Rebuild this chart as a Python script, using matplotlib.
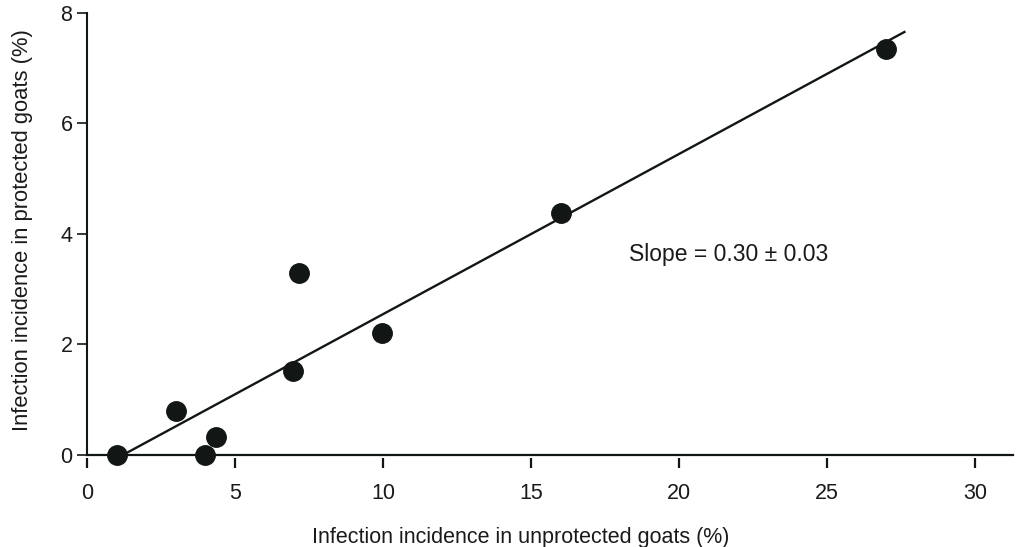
import numpy as np
import matplotlib
matplotlib.use("Agg")
import matplotlib.pyplot as plt

plt.rcParams['font.family'] = ['Liberation Sans', 'DejaVu Sans']

# infection incidence (%) per herd: unprotected vs protected goats
unprotected = [1.0, 3.0, 4.0, 4.35, 6.97, 7.15, 9.96, 16.01, 26.99]
protected = [0.0, 0.80, 0.0, 0.32, 1.52, 3.29, 2.21, 4.38, 7.34]
fit_end = 27.65
slope_text = 'Slope = 0.30 ± 0.03'

x_ticks = [0, 5, 10, 15, 20, 25, 30]
y_ticks = [0, 2, 4, 6, 8]

ink = '#121715'
txt = '#1a1a1a'

fig = plt.figure(figsize=(10.19, 5.47), dpi=100)
ax = fig.add_axes([87 / 1019, 1 - 455 / 547, 926 / 1019, 442.3 / 547])
ax.set_xlim(0, 926 / 29.6)
ax.set_ylim(0, 8)

# least squares line through the points
b, a = np.polyfit(unprotected, protected, 1)
xf = np.array([min(unprotected), fit_end])
ax.plot(xf, a + b * xf, color=ink, lw=1.7, solid_capstyle='butt', clip_on=False)

ax.plot(unprotected, protected, 'o', color=ink, ms=14, clip_on=False, zorder=3)

ax.text(18.3, 3.63, slope_text, ha='left', va='center', fontsize=16.5, color=txt)

# spines: only left, bottom line drawn at y=0 with detached ticks underneath
for s in ['top', 'right']:
    ax.spines[s].set_visible(False)
ax.spines['left'].set_linewidth(1.5)
ax.spines['left'].set_color(ink)
ax.spines['bottom'].set_position(('outward', 2))
ax.spines['bottom'].set_visible(False)
ax.axhline(0, color=ink, lw=1.6, clip_on=False, zorder=2)

ax.set_xticks(x_ticks)
ax.set_yticks(y_ticks)
ax.tick_params(axis='y', direction='out', length=7, width=1.2, pad=3.5,
               labelsize=15.5, colors=ink, labelcolor=txt)
ax.tick_params(axis='x', direction='out', length=7, width=1.6, pad=11,
               labelsize=15.5, colors=ink, labelcolor=txt)

ax.set_xlabel('Infection incidence in unprotected goats (%)', fontsize=15.5, color=txt)
ax.xaxis.set_label_coords(0.468, -0.163)
ax.set_ylabel('Infection incidence in protected goats (%)', fontsize=15.8, color=txt)
ax.yaxis.set_label_coords(-0.058, 0.509)

fig.savefig('out.png', dpi=100)
